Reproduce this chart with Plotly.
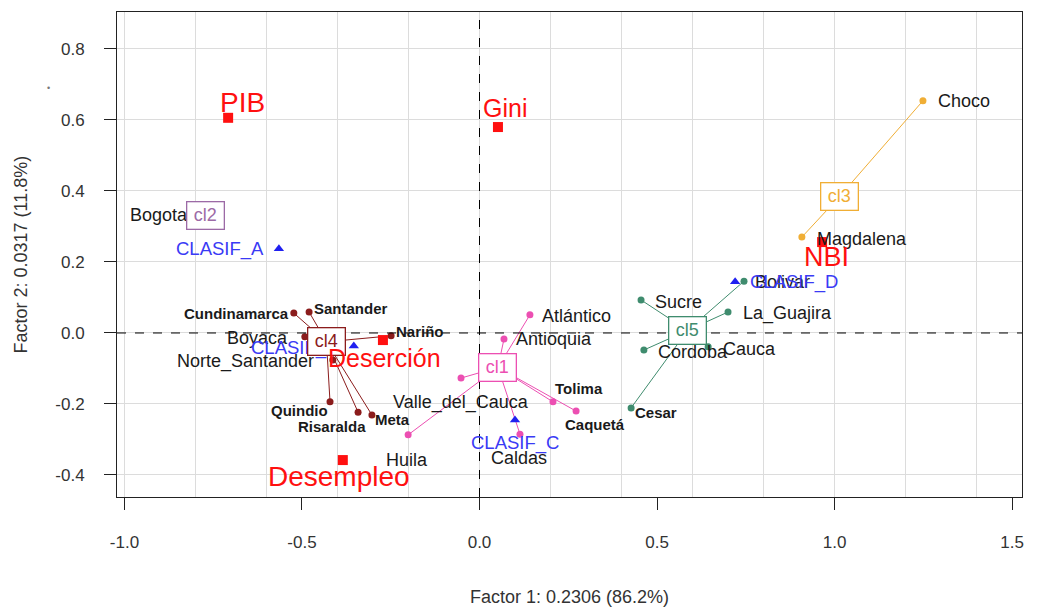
import plotly.graph_objects as go

# ---------------- data ----------------
cluster_names = ["cl1", "cl2", "cl3", "cl4", "cl5"]
cluster_cx = [0.052, -0.772, 1.013, -0.431, 0.586]
cluster_cy = [-0.097, 0.332, 0.383, -0.025, 0.007]

cl1_names = ["Atlántico", "Antioquia", "Valle_del_Cauca", "Huila", "Caldas", "Tolima", "Caquetá"]
cl1_x = [0.142, 0.069, -0.052, -0.201, 0.114, 0.207, 0.272]
cl1_y = [0.051, -0.017, -0.127, -0.287, -0.285, -0.194, -0.220]

cl2_names = ["Bogota"]
cl2_x = [-0.772]
cl2_y = [0.332]

cl3_names = ["Choco", "Magdalena"]
cl3_x = [1.249, 0.908]
cl3_y = [0.654, 0.270]

cl4_names = ["Cundinamarca", "Santander", "Boyaca", "Norte_Santander", "Nariño", "Quindio", "Risaralda", "Meta"]
cl4_x = [-0.523, -0.480, -0.492, -0.413, -0.249, -0.421, -0.342, -0.303]
cl4_y = [0.056, 0.059, -0.011, -0.076, -0.008, -0.194, -0.223, -0.231]

cl5_names = ["Sucre", "Bolivar", "La_Guajira", "Cordoba", "Cauca", "Cesar"]
cl5_x = [0.455, 0.745, 0.700, 0.463, 0.644, 0.427]
cl5_y = [0.093, 0.146, 0.059, -0.048, -0.039, -0.211]

sup_var_names = ["PIB", "Gini", "NBI", "Deserción", "Desempleo"]
sup_var_x = [-0.708, 0.052, 0.965, -0.272, -0.385]
sup_var_y = [0.606, 0.580, 0.256, -0.020, -0.358]

sup_cat_names = ["CLASIF_A", "CLASIF_B", "CLASIF_C", "CLASIF_D"]
sup_cat_x = [-0.565, -0.354, 0.100, 0.720]
sup_cat_y = [0.237, -0.037, -0.245, 0.144]

x_tickvals = [-1.0, -0.5, 0.0, 0.5, 1.0, 1.5]
x_ticktext = ["-1.0", "-0.5", "0.0", "0.5", "1.0", "1.5"]
y_tickvals = [-0.4, -0.2, 0.0, 0.2, 0.4, 0.6, 0.8]
y_ticktext = ["-0.4", "-0.2", "0.0", "0.2", "0.4", "0.6", "0.8"]

x_title = "Factor 1: 0.2306 (86.2%)"
y_title = "Factor 2: 0.0317 (11.8%)"

# ---------------- style ----------------
FONT = "Liberation Sans, Arial, sans-serif"
cluster_colors = ["#EC4FB2", "#9C6AA6", "#F0AE35", "#8B1C1C", "#3F8C6E"]
RED = "#FF1010"
BLUE = "#2020F0"
BLUE_TXT = "#3A3AF5"
TXT = "#1A1A1A"

# label offsets in pixels (dx right, dy down), bold flag
label_style = {
    "Atlántico": (47, 1, False), "Antioquia": (50, 0, False),
    "Valle_del_Cauca": (0, 24, False), "Huila": (-1, 25, False),
    "Caldas": (-1, 24, False), "Tolima": (26, -13, True), "Caquetá": (19, 13, True),
    "Bogota": (-46, 0, False),
    "Choco": (41, 0, False), "Magdalena": (60, 2, False),
    "Cundinamarca": (-57, 0, True), "Santander": (42, -4, True),
    "Boyaca": (-47, 1, False), "Norte_Santander": (-87, 2, False),
    "Nariño": (29, -4, True), "Quindio": (-31, 9, True),
    "Risaralda": (-26, 14, True), "Meta": (21, 5, True),
    "Sucre": (37, 2, False), "Bolivar": (38, 1, False), "La_Guajira": (59, 1, False),
    "Cordoba": (49, 2, False), "Cauca": (41, 2, False), "Cesar": (25, 5, True),
}
sup_var_style = {  # dx, dy, font size
    "PIB": (14, -15, 28), "Gini": (7, -19, 25), "NBI": (4, 15, 27),
    "Deserción": (2, 18, 25), "Desempleo": (-4, 16, 28),
}
sup_cat_style = {"CLASIF_A": (-59, 0), "CLASIF_B": (-59, 2), "CLASIF_C": (0, 23), "CLASIF_D": (59, 0)}

clusters = [
    (cl1_names, cl1_x, cl1_y),
    (cl2_names, cl2_x, cl2_y),
    (cl3_names, cl3_x, cl3_y),
    (cl4_names, cl4_x, cl4_y),
    (cl5_names, cl5_x, cl5_y),
]

fig = go.Figure()
annotations = []

# connecting lines + individual points
for i, (names, xs, ys) in enumerate(clusters):
    col = cluster_colors[i]
    lx, ly = [], []
    for x, y in zip(xs, ys):
        lx += [cluster_cx[i], x, None]
        ly += [cluster_cy[i], y, None]
    fig.add_trace(go.Scatter(x=lx, y=ly, mode="lines", line=dict(color=col, width=1),
                             hoverinfo="skip", showlegend=False))
    fig.add_trace(go.Scatter(x=xs, y=ys, mode="markers", marker=dict(color=col, size=7),
                             text=names, showlegend=False))
    for n, x, y in zip(names, xs, ys):
        dx, dy, bold = label_style[n]
        annotations.append(dict(x=x, y=y, xref="x", yref="y", text=n, showarrow=False,
                                xshift=dx, yshift=-dy, xanchor="center", yanchor="middle",
                                font=dict(family=FONT, size=15 if bold else 18, color=TXT,
                                          weight="bold" if bold else "normal")))

# supplementary categories (blue triangles)
fig.add_trace(go.Scatter(x=sup_cat_x, y=sup_cat_y, mode="markers",
                         marker=dict(symbol="triangle-up", color=BLUE, size=9),
                         text=sup_cat_names, showlegend=False))
for n, x, y in zip(sup_cat_names, sup_cat_x, sup_cat_y):
    dx, dy = sup_cat_style[n]
    annotations.append(dict(x=x, y=y, xref="x", yref="y", text=n, showarrow=False,
                            xshift=dx, yshift=-dy, xanchor="center", yanchor="middle",
                            font=dict(family=FONT, size=18.5, color=BLUE_TXT)))

# cluster boxes
for i, n in enumerate(cluster_names):
    annotations.append(dict(x=cluster_cx[i], y=cluster_cy[i], xref="x", yref="y", text=n,
                            showarrow=False, xanchor="center", yanchor="middle",
                            width=30, height=20, borderpad=3, bgcolor="white",
                            bordercolor=cluster_colors[i], borderwidth=1.3,
                            font=dict(family=FONT, size=18, color=cluster_colors[i])))

# supplementary quantitative variables (red squares)
fig.add_trace(go.Scatter(x=sup_var_x, y=sup_var_y, mode="markers",
                         marker=dict(symbol="square", color=RED, size=10),
                         text=sup_var_names, showlegend=False))
for n, x, y in zip(sup_var_names, sup_var_x, sup_var_y):
    dx, dy, fs = sup_var_style[n]
    annotations.append(dict(x=x, y=y, xref="x", yref="y", text=n, showarrow=False,
                            xshift=dx, yshift=-dy, xanchor="center", yanchor="middle",
                            font=dict(family=FONT, size=fs, color=RED)))

# axis titles and stray dot
annotations.append(dict(x=0.5, y=0, xref="paper", yref="paper", text=x_title, showarrow=False,
                        yshift=-100, xanchor="center", yanchor="middle",
                        font=dict(family=FONT, size=18, color="#333333")))
annotations.append(dict(x=0, y=0.5, xref="paper", yref="paper", text=y_title, showarrow=False,
                        xshift=-97, textangle=-90, xanchor="center", yanchor="middle",
                        font=dict(family=FONT, size=18, color="#333333")))
annotations.append(dict(x=0, y=0.843, xref="paper", yref="paper", text="•", showarrow=False,
                        xshift=-69, xanchor="center", yanchor="middle",
                        font=dict(family=FONT, size=9, color="#777777")))

fig.add_hline(y=0, line=dict(color="black", width=1, dash="dash"))
fig.add_vline(x=0, line=dict(color="black", width=1, dash="dash"))

# the page body adds an 8px margin; the figure is sized to fill the rest
fig.update_layout(
    width=1029, height=600,
    margin=dict(l=109, r=15, t=4, b=111),
    plot_bgcolor="white", paper_bgcolor="white",
    annotations=annotations,
    showlegend=False,
    xaxis=dict(range=[-1.021, 1.528], tickvals=x_tickvals, ticktext=x_ticktext,
               showgrid=False, zeroline=False,
               minor=dict(dtick=0.2, tick0=0, showgrid=True, gridcolor="#DCDCDC", gridwidth=1, ticks=""),
               showline=True, mirror=True, linecolor="#222222", linewidth=1,
               ticks="outside", ticklen=12, tickcolor="#222222",
               ticklabelstandoff=18,
               tickfont=dict(family=FONT, size=17, color="#333333")),
    yaxis=dict(range=[-0.462, 0.904], tickvals=y_tickvals, ticktext=y_ticktext,
               showgrid=True, gridcolor="#DCDCDC", gridwidth=1, zeroline=False,
               showline=True, mirror=True, linecolor="#222222", linewidth=1,
               ticks="outside", ticklen=12, tickcolor="#222222",
               ticklabelstandoff=16,
               tickfont=dict(family=FONT, size=17, color="#333333")),
)

fig.write_html("out.html")
